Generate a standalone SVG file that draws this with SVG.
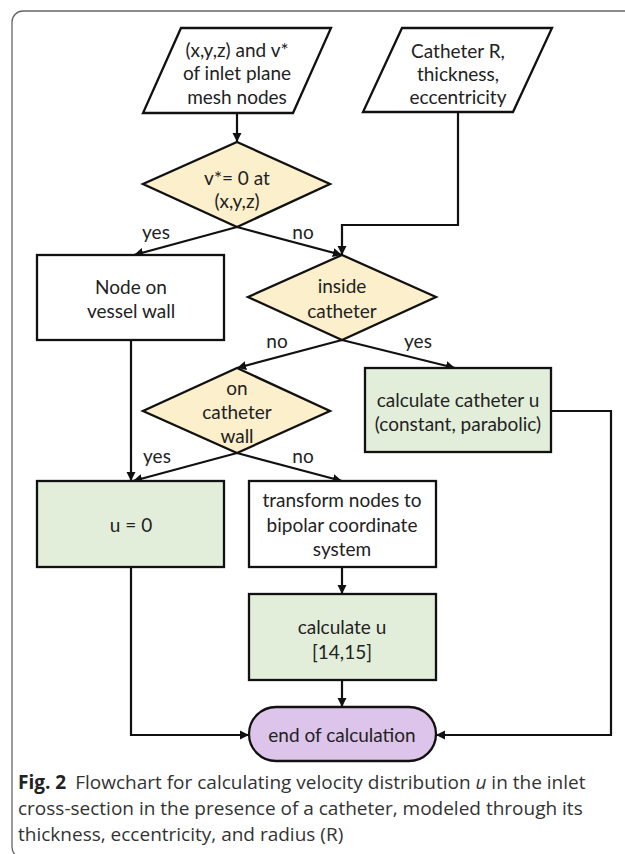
<svg xmlns="http://www.w3.org/2000/svg" width="625" height="854" viewBox="0 0 625 854">
<style>
.sh{stroke:#111;stroke-width:2.3;stroke-linejoin:miter}
.io{fill:#fff}
.dec{fill:#FCEFCB}
.proc{fill:#fff}
.calc{fill:#E2EEDA}
.term{fill:#DCC4EA}
.t{font-family:Lato,"Liberation Sans",sans-serif;font-size:19px;fill:#222;text-anchor:middle}
.lbl{font-family:Lato,"Liberation Sans",sans-serif;font-size:19px;fill:#222;text-anchor:middle}
.c{stroke:#111;stroke-width:2.2;fill:none}
.cap{font-family:"Open Sans","Liberation Sans",sans-serif;font-size:19px;fill:#333}
</style>
<defs>
<marker id="ah" viewBox="0 0 10 10" refX="10" refY="5" markerWidth="4.2" markerHeight="4.2" markerUnits="strokeWidth" orient="auto">
<path d="M0,0 L10,5 L0,10 z" fill="#111"/>
</marker>
</defs>
<rect x="12" y="11" width="650" height="847" rx="11" fill="none" stroke="#666" stroke-width="1.3"/>

<g id="connectors">
<path class="c" d="M237,113 L237,142" marker-end="url(#ah)"/>
<path class="c" d="M458,112 L458,225 L342,225 L342,255" marker-end="url(#ah)"/>
<path class="c" d="M237,227 L134,255" marker-end="url(#ah)"/>
<path class="c" d="M237,227 L342,255" marker-end="url(#ah)"/>
<path class="c" d="M342,340 L237,368" marker-end="url(#ah)"/>
<path class="c" d="M342,340 L455,368" marker-end="url(#ah)"/>
<path class="c" d="M131,340 L131,481" marker-end="url(#ah)"/>
<path class="c" d="M237,453 L133,481" marker-end="url(#ah)"/>
<path class="c" d="M237,453 L342,481" marker-end="url(#ah)"/>
<path class="c" d="M342,567 L342,594" marker-end="url(#ah)"/>
<path class="c" d="M342,680 L342,707" marker-end="url(#ah)"/>
<path class="c" d="M131,567 L131,735 L249,735" marker-end="url(#ah)"/>
<path class="c" d="M551,411 L611,411 L611,735 L436,735" marker-end="url(#ah)"/>
<text class="lbl" x="156" y="239">yes</text>
<text class="lbl" x="303" y="239">no</text>
<text class="lbl" x="277" y="348">no</text>
<text class="lbl" x="418" y="348">yes</text>
<text class="lbl" x="157" y="463">yes</text>
<text class="lbl" x="303" y="463">no</text>
</g>

<g id="input-mesh">
<polygon class="sh io" points="181,28 331,28 293,113 143,113"/>
<text class="t" x="237" y="57">(x,y,z) and v*</text>
<text class="t" x="237" y="80">of inlet plane</text>
<text class="t" x="237" y="104">mesh nodes</text>
</g>

<g id="input-catheter">
<polygon class="sh io" points="402,28 552,28 513,112 363,112"/>
<text class="t" x="458" y="58">Catheter R,</text>
<text class="t" x="458" y="81">thickness,</text>
<text class="t" x="458" y="104">eccentricity</text>
</g>

<g id="dec-v0">
<polygon class="sh dec" points="237,142 330,184 237,227 143,184"/>
<text class="t" x="237" y="185">v*= 0 at</text>
<text class="t" x="237" y="208">(x,y,z)</text>
</g>

<g id="node-vessel-wall">
<rect class="sh proc" x="37" y="255" width="187" height="85"/>
<text class="t" x="131" y="294">Node on</text>
<text class="t" x="131" y="318">vessel wall</text>
</g>

<g id="dec-inside">
<polygon class="sh dec" points="342,255 436,297 342,340 248,297"/>
<text class="t" x="342" y="293">inside</text>
<text class="t" x="342" y="318">catheter</text>
</g>

<g id="calc-catheter-u">
<rect class="sh calc" x="365" y="368" width="186" height="84"/>
<text class="t" x="458" y="407">calculate catheter u</text>
<text class="t" x="458" y="431">(constant, parabolic)</text>
</g>

<g id="dec-wall">
<polygon class="sh dec" points="237,368 330,411 237,453 143,411"/>
<text class="t" x="237" y="395">on</text>
<text class="t" x="237" y="419">catheter</text>
<text class="t" x="237" y="443">wall</text>
</g>

<g id="u-zero">
<rect class="sh calc" x="37" y="481" width="187" height="86"/>
<text class="t" x="131" y="532">u = 0</text>
</g>

<g id="transform">
<rect class="sh proc" x="249" y="481" width="187" height="86"/>
<text class="t" x="342" y="507">transform nodes to</text>
<text class="t" x="342" y="532">bipolar coordinate</text>
<text class="t" x="342" y="556">system</text>
</g>

<g id="calc-u">
<rect class="sh calc" x="249" y="594" width="187" height="86"/>
<text class="t" x="342" y="634">calculate u</text>
<text class="t" x="342" y="659">[14,15]</text>
</g>

<g id="end">
<rect class="sh term" x="249" y="707" width="187" height="54" rx="27"/>
<text class="t" x="342" y="742">end of calculation</text>
</g>

<g id="caption">
<text class="cap" x="18" y="789"><tspan font-weight="bold" fill="#222">Fig. 2</tspan><tspan dx="9">Flowchart for calculating velocity distribution </tspan><tspan font-style="italic">u</tspan> in the inlet</text>
<text class="cap" x="18" y="815">cross-section in the presence of a catheter, modeled through its</text>
<text class="cap" x="18" y="841">thickness, eccentricity, and radius (R)</text>
</g>
</svg>
